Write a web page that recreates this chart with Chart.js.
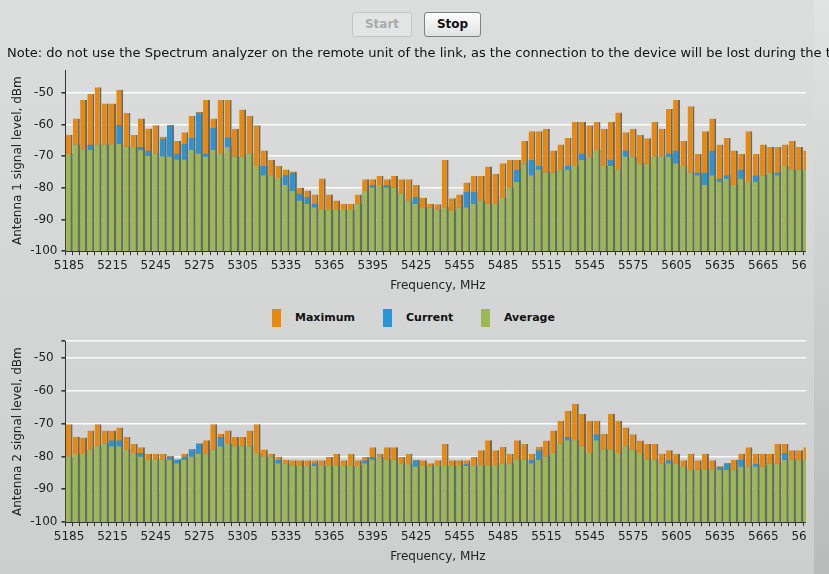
<!DOCTYPE html>
<html>
<head>
<meta charset="utf-8">
<title>Spectrum analyzer</title>
<script src="https://cdn.jsdelivr.net/npm/chart.js@4/dist/chart.umd.min.js"></script>
<style>
    html, body { margin: 0; padding: 0; }
    body {
        width: 829px; height: 574px; overflow: hidden; position: relative;
        background: linear-gradient(#dcdede, #cdcfcf);
        font-family: 'DejaVu Sans', Verdana, sans-serif;
    }
    .btn {
        position: absolute; top: 12px; height: 25px; box-sizing: border-box;
        border-radius: 3px; font: bold 12px 'DejaVu Sans', sans-serif;
        text-align: center; line-height: 23px;
    }
    #startBtn { left: 352px; width: 60px; border: 1px solid #c3c6c6; background: #e3e5e5; color: #a9abab; }
    #stopBtn { left: 424px; width: 57px; border: 1px solid #7d8181; background: linear-gradient(#fdfdfd, #e0e2e2); color: #111; }
    #note { position: absolute; left: 7px; top: 45px; font-size: 13px; white-space: nowrap; color: #111; z-index: 2; }
    .chart-box { position: absolute; left: 0; width: 806px; height: 236px; overflow: hidden; }
    #box1 { top: 59px; }
    #box2 { top: 330px; }
    .legend-item { position: absolute; top: 309px; font: bold 11px 'DejaVu Sans', sans-serif; color: #111; line-height: 18px; }
    .legend-item i { position: absolute; left: 0; top: 0; width: 9px; height: 18px; }
    .legend-item span { position: absolute; left: 23px; top: 0; white-space: nowrap; }
    #edge { position: absolute; left: 814px; top: 0; width: 15px; height: 574px; background: linear-gradient(#e2e4e4, #b9bbbb); z-index: 1; }
</style>
</head>
<body>
<div id="startBtn" class="btn">Start</div>
<div id="stopBtn" class="btn">Stop</div>
<div id="note">Note: do not use the Spectrum analyzer on the remote unit of the link, as the connection to the device will be lost during the test.</div>

<div id="box1" class="chart-box"><canvas id="antenna1Chart" width="825" height="236"></canvas></div>

<div class="legend-item" style="left:272px"><i style="background:#e8890e"></i><span>Maximum</span></div>
<div class="legend-item" style="left:383px"><i style="background:#2a95d6"></i><span>Current</span></div>
<div class="legend-item" style="left:481px"><i style="background:#9db852"></i><span>Average</span></div>

<div id="box2" class="chart-box"><canvas id="antenna2Chart" width="825" height="236"></canvas></div>
<div id="edge"></div>

<script>
/*=============== SPECTRUM DATA ===============*/

// Frequency bins, MHz
const frequencies = [
    5185, 5190, 5195, 5200, 5205, 5210, 5215, 5220, 5225, 5230,
    5235, 5240, 5245, 5250, 5255, 5260, 5265, 5270, 5275, 5280,
    5285, 5290, 5295, 5300, 5305, 5310, 5315, 5320, 5325, 5330,
    5335, 5340, 5345, 5350, 5355, 5360, 5365, 5370, 5375, 5380,
    5385, 5390, 5395, 5400, 5405, 5410, 5415, 5420, 5425, 5430,
    5435, 5440, 5445, 5450, 5455, 5460, 5465, 5470, 5475, 5480,
    5485, 5490, 5495, 5500, 5505, 5510, 5515, 5520, 5525, 5530,
    5535, 5540, 5545, 5550, 5555, 5560, 5565, 5570, 5575, 5580,
    5585, 5590, 5595, 5600, 5605, 5610, 5615, 5620, 5625, 5630,
    5635, 5640, 5645, 5650, 5655, 5660, 5665, 5670, 5675, 5680,
    5685, 5690, 5695
];

// Y axis tick labels, dBm
const levelTicks = [-100, -90, -80, -70, -60, -50];

// Antenna 1 (dBm)
const ant1Maximum = [
    -63.2, -58.1, -52.2, -50.3, -48.2, -53.3, -53.3, -49.0, -56.3, -63.3,
    -58.1, -61.2, -60.2, -63.8, -60.0, -65.2, -62.4, -57.2, -56.0, -52.2,
    -58.1, -52.2, -52.2, -61.3, -55.2, -57.2, -60.2, -68.2, -71.2, -73.1,
    -74.2, -74.8, -79.9, -80.8, -82.1, -77.0, -82.1, -84.0, -85.0, -85.0,
    -82.1, -77.3, -77.3, -76.2, -77.3, -76.2, -77.3, -77.3, -79.1, -83.1,
    -85.0, -85.2, -71.2, -83.3, -82.1, -78.3, -76.2, -76.2, -73.2, -75.5,
    -72.2, -71.2, -71.2, -65.2, -62.1, -62.1, -61.3, -68.2, -66.3, -64.2,
    -59.2, -59.2, -60.2, -59.2, -61.3, -59.2, -56.2, -62.4, -61.3, -63.2,
    -64.3, -59.2, -61.3, -55.1, -52.2, -65.2, -54.2, -69.3, -62.1, -58.1,
    -66.3, -64.2, -68.2, -69.3, -62.1, -69.3, -66.3, -67.1, -67.1, -66.3,
    -65.2, -67.1, -68.2
];
const ant1Current = [
    -69.3, -66.3, -68.0, -66.3, -66.3, -66.3, -66.3, -60.1, -66.9, -67.1,
    -67.1, -68.2, -69.1, -64.5, -60.2, -69.1, -66.1, -64.2, -56.2, -69.1,
    -61.1, -69.1, -64.0, -70.1, -70.1, -69.1, -73.1, -73.1, -76.0, -76.9,
    -75.9, -75.1, -81.8, -82.9, -84.9, -87.0, -87.0, -87.0, -87.0, -87.0,
    -85.0, -81.0, -79.1, -79.1, -79.1, -79.9, -81.8, -84.0, -82.9, -86.1,
    -86.1, -86.8, -86.1, -87.2, -86.1, -81.2, -81.2, -84.0, -85.0, -85.0,
    -83.1, -79.9, -74.2, -72.2, -71.2, -73.1, -75.1, -75.1, -74.2, -73.1,
    -73.1, -69.1, -70.1, -68.0, -73.1, -71.2, -74.2, -68.2, -70.1, -72.2,
    -72.2, -70.1, -70.1, -69.1, -68.2, -73.1, -75.1, -75.1, -75.1, -68.2,
    -77.0, -76.0, -79.1, -74.2, -78.1, -76.0, -76.0, -75.1, -75.1, -73.1,
    -74.2, -74.2, -74.2
];
const ant1Average = [
    -69.3, -66.3, -68.0, -68.0, -66.3, -66.3, -66.3, -66.1, -66.9, -67.1,
    -68.0, -69.9, -69.1, -70.0, -70.1, -71.0, -71.0, -68.0, -69.1, -70.1,
    -68.0, -69.1, -67.1, -70.1, -70.1, -69.1, -73.1, -76.0, -76.0, -76.9,
    -79.1, -81.0, -84.0, -85.0, -86.1, -87.0, -87.0, -87.0, -87.0, -87.0,
    -85.0, -81.0, -79.9, -79.1, -79.9, -79.9, -81.8, -84.0, -85.0, -86.1,
    -86.1, -86.8, -86.1, -87.2, -86.1, -86.1, -85.0, -84.0, -85.0, -85.0,
    -83.1, -79.9, -78.1, -72.2, -76.0, -74.2, -75.1, -75.1, -74.2, -74.2,
    -73.1, -71.2, -70.1, -68.0, -73.1, -73.1, -74.2, -70.1, -70.1, -72.2,
    -72.2, -70.1, -70.1, -70.1, -72.2, -73.1, -75.1, -76.0, -79.1, -76.0,
    -78.1, -77.0, -79.1, -77.0, -78.1, -78.1, -76.0, -75.1, -76.0, -73.1,
    -74.2, -74.2, -74.2
];

// Antenna 2 (dBm)
const ant2Maximum = [
    -70.2, -74.0, -74.3, -72.1, -70.2, -72.1, -72.1, -71.2, -74.1, -76.2,
    -77.2, -79.2, -79.2, -79.2, -79.9, -80.9, -79.2, -77.7, -76.0, -75.1,
    -70.2, -73.1, -72.1, -74.1, -74.1, -72.1, -70.2, -77.9, -79.2, -80.0,
    -81.0, -81.2, -81.2, -81.2, -81.2, -81.2, -80.2, -79.2, -81.2, -79.2,
    -81.2, -80.2, -77.2, -79.2, -77.2, -77.2, -80.2, -79.2, -81.0, -81.2,
    -82.1, -81.2, -76.2, -81.2, -81.2, -81.2, -80.2, -78.1, -75.1, -78.1,
    -77.1, -79.2, -75.1, -76.2, -79.2, -77.1, -75.2, -72.1, -69.2, -66.1,
    -64.0, -67.1, -69.2, -69.2, -73.1, -67.1, -69.2, -71.2, -73.3, -75.2,
    -76.2, -76.2, -79.2, -78.1, -79.2, -81.2, -79.2, -81.2, -79.2, -81.2,
    -83.0, -82.0, -81.0, -79.2, -77.2, -79.2, -79.2, -79.2, -76.2, -76.2,
    -78.1, -78.1, -77.2
];
const ant2Current = [
    -80.0, -79.3, -79.3, -77.9, -76.9, -76.1, -75.1, -75.1, -77.9, -79.0,
    -79.0, -81.0, -81.0, -81.0, -80.0, -81.0, -80.0, -77.9, -76.1, -79.2,
    -77.9, -74.1, -76.1, -76.9, -76.9, -76.9, -79.0, -80.0, -80.0, -81.0,
    -82.1, -82.9, -82.9, -82.9, -82.1, -82.9, -82.9, -82.9, -82.9, -82.9,
    -82.9, -81.2, -80.2, -80.0, -81.0, -81.0, -82.1, -82.1, -81.2, -82.9,
    -83.1, -82.9, -82.9, -82.9, -82.9, -82.3, -82.9, -82.9, -82.9, -82.9,
    -82.1, -82.1, -81.0, -81.0, -81.0, -78.1, -80.0, -79.0, -76.1, -74.1,
    -75.1, -76.9, -79.0, -73.3, -77.9, -77.9, -79.0, -76.9, -77.9, -79.0,
    -81.0, -81.0, -82.1, -81.2, -82.1, -83.1, -84.1, -84.1, -84.1, -84.1,
    -83.1, -82.1, -84.1, -81.0, -83.1, -82.3, -83.1, -82.1, -82.1, -79.0,
    -81.0, -81.0, -81.0
];
const ant2Average = [
    -80.0, -79.3, -79.3, -77.9, -76.9, -76.1, -76.9, -76.9, -77.9, -79.0,
    -80.0, -81.0, -81.0, -81.0, -81.0, -82.1, -81.0, -80.0, -79.2, -79.2,
    -77.9, -76.9, -76.1, -76.9, -76.9, -76.9, -79.0, -80.0, -80.0, -82.1,
    -82.1, -82.9, -82.9, -82.9, -82.9, -82.9, -82.9, -82.9, -82.9, -82.9,
    -82.9, -82.1, -81.0, -80.0, -81.0, -81.0, -82.1, -82.1, -83.1, -82.9,
    -83.1, -82.9, -82.9, -82.9, -82.9, -82.9, -82.9, -82.9, -82.9, -82.9,
    -82.1, -82.1, -81.0, -81.0, -82.1, -81.0, -80.0, -79.0, -76.1, -75.1,
    -75.1, -76.9, -79.0, -75.1, -77.9, -77.9, -79.0, -76.9, -77.9, -79.0,
    -81.0, -81.0, -82.1, -82.1, -82.1, -83.1, -84.1, -84.1, -84.1, -84.1,
    -84.1, -84.1, -84.1, -83.1, -83.1, -83.1, -83.1, -82.1, -82.1, -81.0,
    -81.0, -81.0, -81.0
];

/*=============== CHART SETUP ===============*/

const FLOOR = -100;
const COLORS = { maximum: '#e8890e', current: '#2a95d6', average: '#9db852', shadow: '#676969' };

// bars hang from the -100 floor, so pass them as floating [floor, value] pairs
const toBars = values => values.map(v => [FLOOR, v]);

function barSet(label, values, color, order) {
    return {
        label: label,
        data: toBars(values),
        backgroundColor: color,
        borderColor: COLORS.shadow,
        borderWidth: { top: 0, right: 2, bottom: 0, left: 0 },
        borderSkipped: false,
        barPercentage: 0.96,
        categoryPercentage: 1,
        order: order
    };
}

function buildChart(canvasId, maxVals, curVals, avgVals, yTitle, yMax, topGrid) {
    const ctx = document.getElementById(canvasId).getContext('2d');
    return new Chart(ctx, {
        type: 'bar',
        data: {
            labels: frequencies,
            datasets: [
                barSet('Maximum', maxVals, COLORS.maximum, 3),
                barSet('Current', curVals, COLORS.current, 2),
                barSet('Average', avgVals, COLORS.average, 1)
            ]
        },
        options: {
            responsive: false,
            animation: false,
            layout: { padding: 0 },
            plugins: { legend: { display: false }, tooltip: { enabled: false } },
            scales: {
                x: {
                    stacked: true,
                    offset: true,
                    border: { color: '#333' },
                    grid: { offset: true, drawOnChartArea: false, tickLength: 4, color: '#333' },
                    ticks: {
                        autoSkip: false,
                        maxRotation: 0,
                        minRotation: 0,
                        padding: 3,
                        color: '#222',
                        font: { family: 'DejaVu Sans', size: 12 },
                        callback: (value, index) => index % 6 === 0 ? frequencies[index] : ''
                    },
                    title: {
                        display: true,
                        text: 'Frequency, MHz',
                        color: '#222',
                        font: { family: 'DejaVu Sans', size: 12 },
                        padding: { top: 3, bottom: 2 }
                    }
                },
                y: {
                    min: FLOOR,
                    max: yMax,
                    afterBuildTicks: scale => {
                        const vals = topGrid ? levelTicks.concat([yMax]) : levelTicks;
                        scale.ticks = vals.map(v => ({ value: v }));
                    },
                    afterFit: scale => { scale.width = 65.5; },
                    border: { color: '#333' },
                    grid: {
                        color: 'rgba(255,255,255,0.9)',
                        lineWidth: 1.6,
                        tickColor: '#333',
                        tickLength: 4
                    },
                    ticks: {
                        crossAlign: 'center',
                        padding: 4,
                        color: '#222',
                        font: { family: 'DejaVu Sans', size: 12 },
                        callback: value => levelTicks.includes(value) ? value : ''
                    },
                    title: {
                        display: true,
                        text: yTitle,
                        color: '#222',
                        font: { family: 'DejaVu Sans', size: 12 },
                        padding: { top: 11, bottom: 0 }
                    }
                }
            }
        }
    });
}

document.addEventListener('DOMContentLoaded', () => {
    try {
        buildChart('antenna1Chart', ant1Maximum, ant1Current, ant1Average, 'Antenna 1 signal level, dBm', -42.8, false);
        buildChart('antenna2Chart', ant2Maximum, ant2Current, ant2Average, 'Antenna 2 signal level, dBm', -45, true);
    } catch (error) {
        console.error('Error initializing spectrum charts:', error);
    }
});
</script>
</body>
</html>
